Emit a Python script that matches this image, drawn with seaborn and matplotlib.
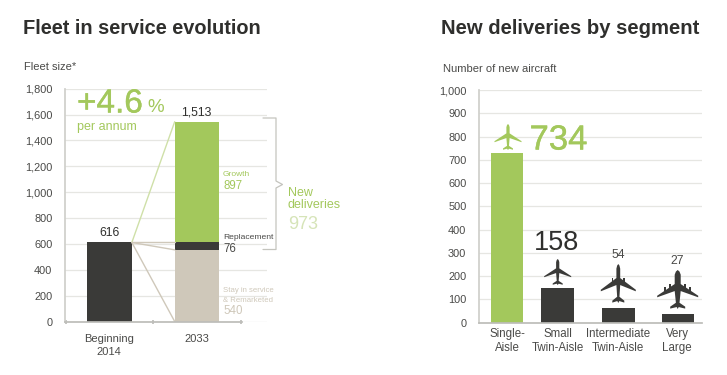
import numpy as np
import pandas as pd
import seaborn as sns
import matplotlib.pyplot as plt
import matplotlib.patheffects as pe
from matplotlib.patches import Polygon

# 数据
fleet_years = ['Beginning\n2014', '2033']
fleet_stay = [611, 554]
fleet_repl = [0, 57]
fleet_growth = [0, 934]
fleet_ticks = [0, 200, 400, 600, 800, 1000, 1200, 1400, 1600, 1800]

segments = ['Single-\nAisle', 'Small\nTwin-Aisle', 'Intermediate\nTwin-Aisle', 'Very\nLarge']
deliveries = [730, 148, 62, 36]
delivery_ticks = [0, 100, 200, 300, 400, 500, 600, 700, 800, 900, 1000]

GREEN = '#A3C85C'
DARK = '#3A3A38'
TAN = '#CFC8BA'
GRID = '#E6E6E2'
GREY = '#4A4A48'
W, H = 727, 375

sns.set_theme(style='white')
plt.rcParams['font.family'] = ['Liberation Sans', 'DejaVu Sans']

fig = plt.figure(figsize=(W / 100, H / 100), dpi=100)


def px_axes(x0, x1, y0, y1):
    return fig.add_axes([x0 / W, 1 - y0 / H, (x1 - x0) / W, (y0 - y1) / H])


def ftext(x, y, s, **kw):
    return fig.text(x / W, 1 - y / H, s, **kw)


def style_axis(ax, ticks, top):
    ax.set_ylim(0, top)
    ax.set_yticks(ticks)
    ax.set_yticklabels([f'{t:,}' for t in ticks], fontsize=7.9, color=GREY)
    ax.grid(axis='y', color=GRID, lw=0.9)
    ax.set_axisbelow(True)
    ax.set_xlabel('')
    ax.set_ylabel('')
    for s in ['top', 'right']:
        ax.spines[s].set_visible(False)
    ax.spines['left'].set_color('#CFCFCB')
    ax.spines['bottom'].set_color('#BDBDB9')
    ax.tick_params(axis='y', length=3, color='#BDBDB9', pad=6)


# 左图：堆叠柱状图
ax1 = px_axes(65, 267, 321.5, 88.7)
df = pd.DataFrame({'year': fleet_years, 'stay': fleet_stay, 'repl': fleet_repl, 'growth': fleet_growth})
df['repl_base'] = df['stay']
df['growth_base'] = df['stay'] + df['repl']
sns.barplot(data=df, x='year', y='stay', color=DARK, saturation=1, width=0.51, linewidth=0, ax=ax1)
ax1.patches[1].set_facecolor(TAN)
sns.barplot(data=df, x='year', y='repl', bottom=df['repl_base'], color=DARK, saturation=1, width=0.51, linewidth=0, ax=ax1)
sns.barplot(data=df, x='year', y='growth', bottom=df['growth_base'], color=GREEN, saturation=1, width=0.51, linewidth=0, ax=ax1)
ax1.set_xlim(-0.509, 1.8)
style_axis(ax1, fleet_ticks, 1800)
ax1.spines['bottom'].set_bounds(-0.509, 1.51)
ax1.set_xticks([-0.5, 0.5, 1.5])
ax1.set_xticklabels([])
ax1.tick_params(axis='x', length=3, direction='inout', color='#BDBDB9', bottom=True)

# 连接线
top_left = fleet_stay[0]
ax1.plot([0.255, 0.745], [top_left, fleet_stay[1] + fleet_repl[1] + fleet_growth[1]], color='#CFE0A8', lw=1)
ax1.plot([0.255, 0.745], [top_left, fleet_stay[1] + fleet_repl[1]], color=TAN, lw=1)
ax1.plot([0.255, 0.745], [top_left, fleet_stay[1]], color=TAN, lw=1)
ax1.plot([0.255, 0.745], [top_left, 0], color=TAN, lw=1)

# 括号
bracket = [(263, 118), (276, 118), (276, 181), (282.5, 184.5), (276, 188), (276, 249.5), (263, 249.5)]
fig.add_artist(plt.Line2D([p[0] / W for p in bracket], [1 - p[1] / H for p in bracket], color='#C4C4BE', lw=0.9))

# 文字
ftext(23, 28, 'Fleet in service evolution', fontsize=14.4, fontweight='bold', color='#2F2F2D', va='center')
ftext(24, 67.5, 'Fleet size*', fontsize=8, color=GREY, va='center')
big = ftext(77, 104, '+4.6', fontsize=24, color=GREEN, va='center')
big.set_path_effects([pe.withStroke(linewidth=0.3, foreground=GREEN)])
ftext(147.5, 107, '%', fontsize=13.5, color=GREEN, va='center')
ftext(77, 127, 'per annum', fontsize=9, color=GREEN, va='center')
ftext(109, 233.5, '616', fontsize=8.8, color='#2F2F2D', ha='center', va='center')
ftext(196, 112.5, '1,513', fontsize=8.8, color='#2F2F2D', ha='center', va='center')
ftext(223, 175, 'Growth', fontsize=6, color=GREEN, va='center')
ftext(223, 186, '897', fontsize=8.3, color=GREEN, va='center')
ftext(223, 237.5, 'Replacement', fontsize=6.1, color=GREY, va='center')
ftext(223, 248.5, '76', fontsize=8.3, color=GREY, va='center')
ftext(223, 291, 'Stay in service', fontsize=5.6, color=TAN, va='center')
ftext(223, 300.5, '& Remarketed', fontsize=5.6, color=TAN, va='center')
ftext(223, 311, '540', fontsize=8.3, color=TAN, va='center')
ftext(288, 193.5, 'New', fontsize=9, color=GREEN, va='center')
ftext(288, 205, 'deliveries', fontsize=9, color=GREEN, va='center')
ftext(288, 224, '973', fontsize=13, color='#D6E4B8', va='center')
ftext(109, 345.5, 'Beginning\n2014', fontsize=8, color=GREY, ha='center', va='center', linespacing=1.35)
ftext(197, 338.5, '2033', fontsize=8, color=GREY, ha='center', va='center')

# 右图：柱状图
bar_px = [507, 557.5, 618.5, 678]
ax2 = px_axes(479, 701.7, 322.7, 90)
sns.barplot(x=bar_px, y=deliveries, native_scale=True, width=0.647, color=DARK, saturation=1, linewidth=0, ax=ax2)
ax2.patches[0].set_facecolor(GREEN)
ax2.set_xlim(479, 701.7)
style_axis(ax2, delivery_ticks, 1000)
ax2.set_xticks([])

ftext(441, 29, 'New deliveries by segment', fontsize=14.6, fontweight='bold', color='#2F2F2D', va='center')
ftext(443, 68.5, 'Number of new aircraft', fontsize=8, color=GREY, va='center')
big2 = ftext(529.5, 140, '734', fontsize=25, color=GREEN, va='center')
big2.set_path_effects([pe.withStroke(linewidth=0.3, foreground=GREEN)])
ftext(557, 243, '158', fontsize=19.5, color='#2F2F2D', ha='center', va='center')
ftext(618, 254.5, '54', fontsize=8.8, color=GREY, ha='center', va='center')
ftext(677, 260.5, '27', fontsize=8.8, color=GREY, ha='center', va='center')
for x, s in zip(bar_px, segments):
    ftext(x - (x > 600) * 0.7, 341, s, fontsize=8.3, color=GREY, ha='center', va='center', linespacing=1.25)


# 飞机图标
def plane(cx, top, bottom, span, body, tail, color, engines=()):
    L = bottom - top
    half = span / 2
    right = [(0, 0), (body * 0.6, 0.04 * L), (body, 0.12 * L), (body, 0.36 * L), (half, 0.66 * L), (half, 0.70 * L),
             (body, 0.54 * L), (body * 0.6, 0.84 * L), (tail, 0.94 * L), (tail, 0.99 * L), (1.0, 0.95 * L), (0, 1.0 * L)]
    left = [(-x, y) for x, y in right[::-1]]
    pts = [((cx + x) / W, 1 - (top + y) / H) for x, y in right + left]
    fig.add_artist(Polygon(pts, closed=True, facecolor=color, edgecolor='none', transform=fig.transFigure))
    # 发动机
    for f in engines:
        for sign in (-1, 1):
            ex = body + f * (half - body)
            ey = 0.36 * L + f * 0.30 * L
            box = [(ex - 0.9, ey - 3), (ex + 0.9, ey - 3), (ex + 0.9, ey + 1), (ex - 0.9, ey + 1)]
            fig.add_artist(Polygon([((cx + sign * x) / W, 1 - (top + y) / H) for x, y in box], closed=True,
                                   facecolor=color, edgecolor='none', transform=fig.transFigure))


plane(508, 124, 150, 27, 1.6, 5, GREEN)
plane(557.7, 259, 285, 27, 1.6, 5, DARK)
plane(618.3, 264, 303, 35, 1.9, 6, DARK, engines=[0.25])
plane(677.7, 270, 309, 41, 3, 7.5, DARK, engines=[0.25, 0.55])

fig.savefig('out.png', dpi=100)
